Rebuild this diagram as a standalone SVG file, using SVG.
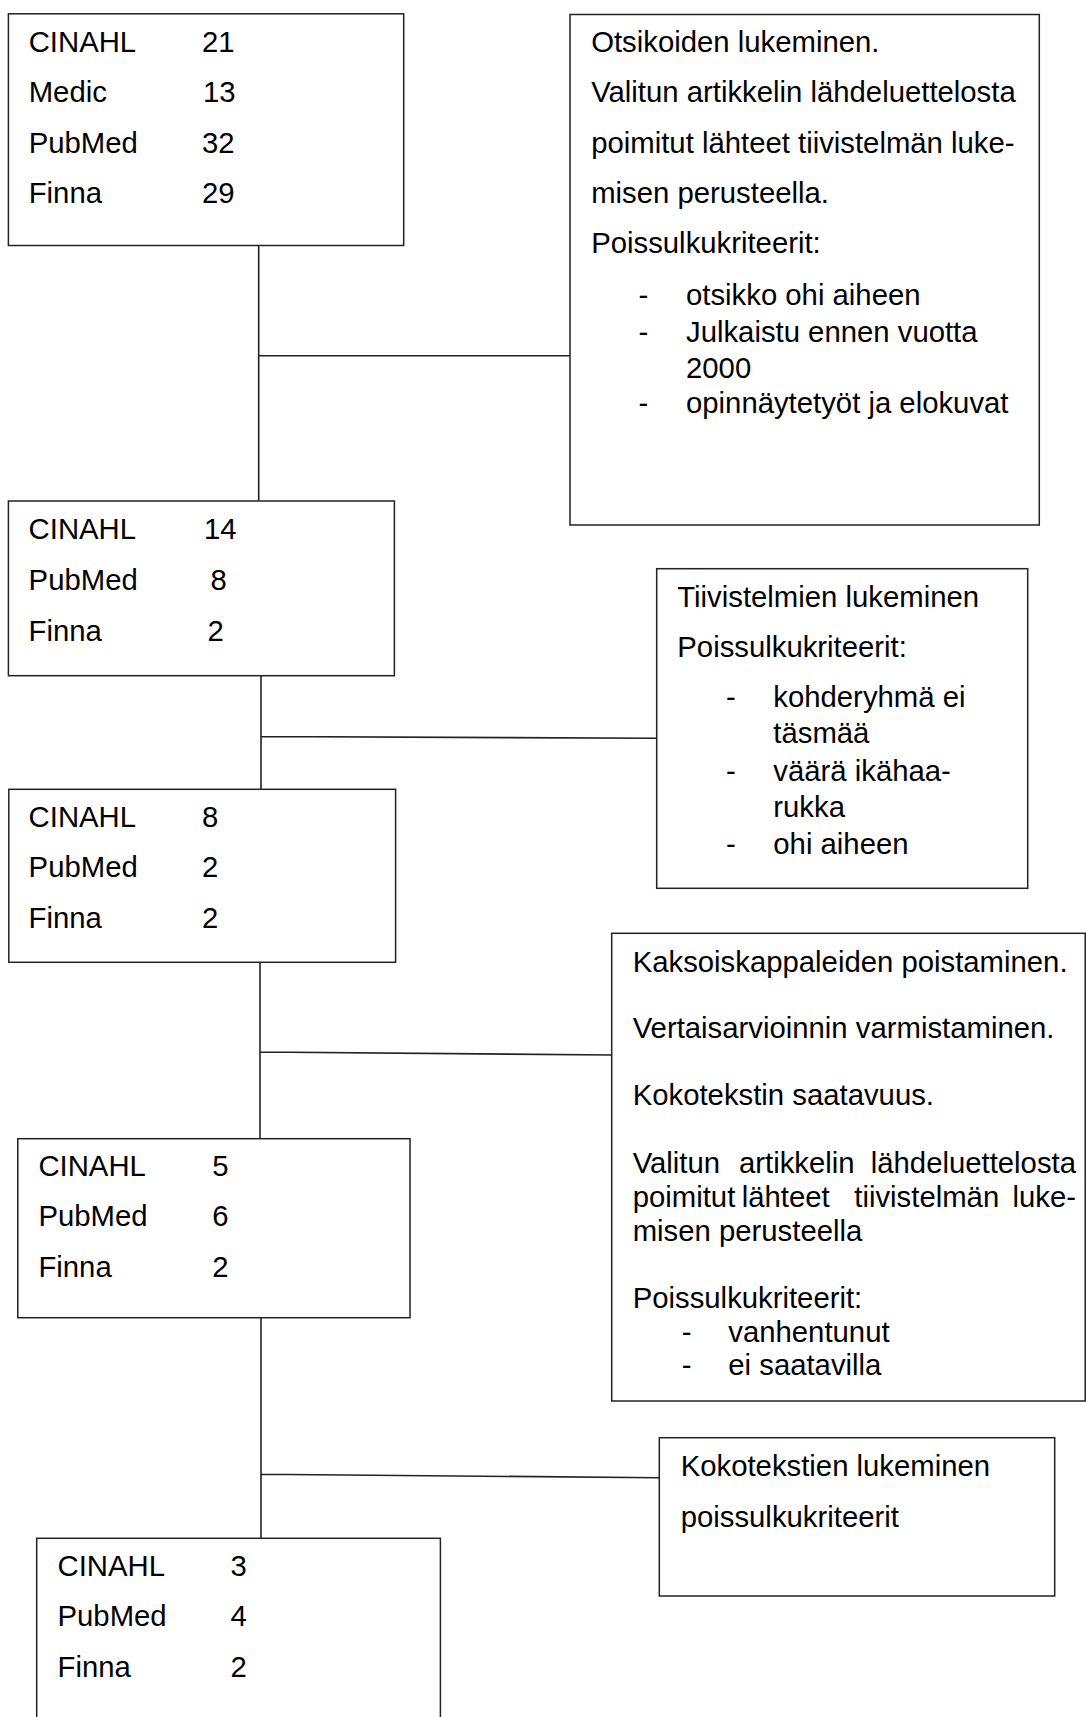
<svg xmlns="http://www.w3.org/2000/svg" width="1086" height="1717" viewBox="0 0 1086 1717">
<style>
.box{fill:#fff;stroke:#222;stroke-width:1.5}
.con{fill:none;stroke:#222;stroke-width:1.6}
text{font-family:"Liberation Sans",Arial,sans-serif;font-size:29.3px;fill:#000}
</style>
<rect width="1086" height="1717" fill="#fff"/>
<g id="connectors">
<path class="con" d="M258.7,245.5 V501 M258.7,355.7 H570"/>
<path class="con" d="M261,675.7 V789.3 M261,736.5 L656.7,738.3"/>
<path class="con" d="M260,962.3 V1138.7 M260,1052 L611.7,1055"/>
<path class="con" d="M261,1317.7 V1538.3 M261,1474.3 L659.3,1477.7"/>
</g>
<g id="n1">
<rect class="box" x="8.4" y="13.8" width="395.3" height="231.7"/>
<text x="28.7" y="52.3">CINAHL</text><text x="202" y="52.3">21</text>
<text x="28.7" y="102.3">Medic</text><text x="203" y="102.3">13</text>
<text x="28.7" y="152.5">PubMed</text><text x="202" y="152.5">32</text>
<text x="28.7" y="203.2">Finna</text><text x="202" y="203.2">29</text>
</g>
<g id="r1">
<rect class="box" x="570" y="14.5" width="469.3" height="510.5"/>
<text x="591.2" y="52.3">Otsikoiden lukeminen.</text>
<text x="591.2" y="102.3">Valitun artikkelin lähdeluettelosta</text>
<text x="591.2" y="152.5">poimitut lähteet tiivistelmän luke-</text>
<text x="591.2" y="203">misen perusteella.</text>
<text x="591.2" y="253">Poissulkukriteerit:</text>
<text x="638.5" y="304.8">-</text><text x="686" y="304.8">otsikko ohi aiheen</text>
<text x="638.5" y="342">-</text><text x="686" y="342">Julkaistu ennen vuotta</text>
<text x="686" y="378">2000</text>
<text x="638.5" y="413">-</text><text x="686" y="413">opinnäytetyöt ja elokuvat</text>
</g>
<g id="n2">
<rect class="box" x="8.4" y="501" width="386" height="174.7"/>
<text x="28.6" y="539.3">CINAHL</text><text x="204" y="539.3">14</text>
<text x="28.6" y="590">PubMed</text><text x="210.4" y="590">8</text>
<text x="28.6" y="641">Finna</text><text x="207.5" y="641">2</text>
</g>
<g id="r2">
<rect class="box" x="656.7" y="568.7" width="371" height="319.6"/>
<text x="677.3" y="606.7">Tiivistelmien lukeminen</text>
<text x="677.3" y="656.7">Poissulkukriteerit:</text>
<text x="726" y="706.7">-</text><text x="773.3" y="706.7">kohderyhmä ei</text>
<text x="773.3" y="743.3">täsmää</text>
<text x="726" y="780.7">-</text><text x="773.3" y="780.7">väärä ikähaa-</text>
<text x="773.3" y="817.3">rukka</text>
<text x="726" y="854.3">-</text><text x="773.3" y="854.3">ohi aiheen</text>
</g>
<g id="n3">
<rect class="box" x="8.8" y="789.3" width="386.8" height="173"/>
<text x="28.6" y="826.7">CINAHL</text><text x="202" y="826.7">8</text>
<text x="28.6" y="877.3">PubMed</text><text x="202" y="877.3">2</text>
<text x="28.6" y="928.3">Finna</text><text x="202" y="928.3">2</text>
</g>
<g id="r3">
<rect class="box" x="611.7" y="933.3" width="473.5" height="467.7"/>
<text x="632.7" y="971.7">Kaksoiskappaleiden poistaminen.</text>
<text x="632.7" y="1038.3">Vertaisarvioinnin varmistaminen.</text>
<text x="632.7" y="1105">Kokotekstin saatavuus.</text>
<text y="1173.3"><tspan x="632.7">Valitun</tspan> <tspan x="739">artikkelin</tspan> <tspan x="1076" text-anchor="end">lähdeluettelosta</tspan></text>
<text y="1207.3"><tspan x="632.7">poimitut</tspan> <tspan x="741.7">lähteet</tspan> <tspan x="854.3">tiivistelmän</tspan> <tspan x="1076" text-anchor="end">luke-</tspan></text>
<text x="632.7" y="1240.7">misen perusteella</text>
<text x="632.7" y="1308.3">Poissulkukriteerit:</text>
<text x="681.7" y="1341.7">-</text><text x="728.3" y="1341.7">vanhentunut</text>
<text x="681.7" y="1375">-</text><text x="728.3" y="1375">ei saatavilla</text>
</g>
<g id="n4">
<rect class="box" x="17.8" y="1138.7" width="392.2" height="179"/>
<text x="38.4" y="1176">CINAHL</text><text x="212.3" y="1176">5</text>
<text x="38.4" y="1226">PubMed</text><text x="212.3" y="1226">6</text>
<text x="38.4" y="1276.7">Finna</text><text x="212.3" y="1276.7">2</text>
</g>
<g id="r4">
<rect class="box" x="659.3" y="1437.7" width="395.4" height="158.3"/>
<text x="680.7" y="1476">Kokotekstien lukeminen</text>
<text x="680.7" y="1526.7">poissulkukriteerit</text>
</g>
<g id="n5">
<rect class="box" x="36.7" y="1538.3" width="403.7" height="200"/>
<text x="57.5" y="1576">CINAHL</text><text x="230.6" y="1576">3</text>
<text x="57.5" y="1626">PubMed</text><text x="230.6" y="1626">4</text>
<text x="57.5" y="1676.7">Finna</text><text x="230.6" y="1676.7">2</text>
</g>
</svg>
